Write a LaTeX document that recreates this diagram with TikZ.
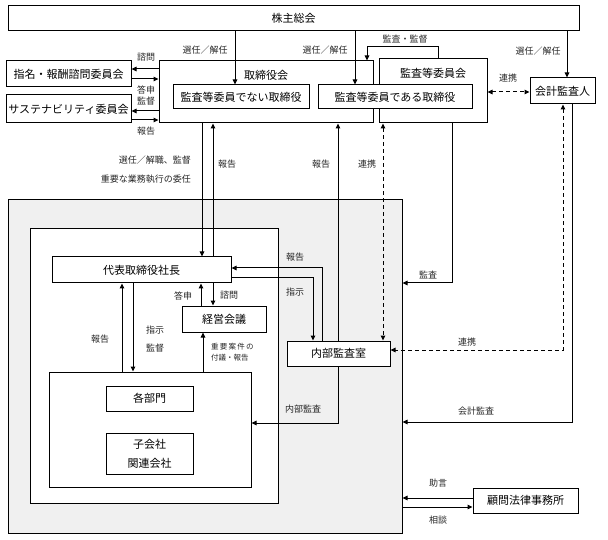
\documentclass[tikz,border=0pt]{standalone}
\usepackage{fontspec}
\setmainfont{Noto Sans CJK JP}
\usetikzlibrary{arrows.meta}
\begin{document}
\begin{tikzpicture}[x=1pt, y=-1pt,
    orgbox/.style={draw, line width=\orgBoxLineWidth, fill=white, inner sep=0pt, align=center,
      font=\fontsize{11}{13}\selectfont},
    flowlabel/.style={inner sep=1pt, text=\orgLabelColor, font=\fontsize{9}{10}\selectfont},
    flow/.style={line width=\orgFlowLineWidth, -{Triangle[length=5pt,width=4.5pt]}},
    linkflow/.style={line width=\orgFlowLineWidth, dash pattern=on 4pt off 3pt,
      {Triangle[length=5pt,width=4.5pt]}-{Triangle[length=5pt,width=4.5pt]}}]
% governance chart, pixel grid 608 x 540
\providecommand{\orgBoxLineWidth}{1pt}
\providecommand{\orgFlowLineWidth}{1pt}
\providecommand{\orgGroupFill}{black!6}
\providecommand{\orgLabelColor}{black!85}
\useasboundingbox (0,0) rectangle (608,540);
% Company block (grey) and executive block (white)
\node[orgbox, fill=\orgGroupFill, minimum width=394pt, minimum height=333pt] (group) at (205,366.5) {};
\node[orgbox, minimum width=248pt, minimum height=274pt] (exec) at (154,366) {};
% Top level
\node[orgbox, minimum width=571pt, minimum height=25pt] (soukai) at (293.5,18.5) {株主総会};
\node[orgbox, minimum width=125pt, minimum height=26pt] (shimei) at (68.5,74) {指名・報酬諮問委員会};
\node[orgbox, minimum width=125pt, minimum height=28pt] (sustain) at (68.5,109) {サステナビリティ委員会};
\node[orgbox, minimum width=214pt, minimum height=62pt] (torikai) at (266,92) {};
\node[inner sep=0pt, font=\fontsize{11}{13}\selectfont] (torikaiTitle) at (266,75) {取締役会};
\node[orgbox, minimum width=108pt, minimum height=64pt] (kansa) at (433,91) {};
\node[inner sep=0pt, font=\fontsize{11}{13}\selectfont] (kansaTitle) at (433,73) {監査等委員会};
\node[orgbox, minimum width=136pt, minimum height=24pt] (nonaudit) at (241,97) {監査等委員でない取締役};
\node[orgbox, minimum width=154pt, minimum height=24pt] (audit) at (395,97) {監査等委員である取締役};
\node[orgbox, minimum width=65pt, minimum height=26pt] (kaikei) at (562.5,91) {会計監査人};
% Execution side
\node[orgbox, minimum width=179pt, minimum height=26pt] (shacho) at (141.5,270) {代表取締役社長};
\node[orgbox, minimum width=84pt, minimum height=26pt] (keiei) at (224,319) {経営会議};
\node[orgbox, minimum width=103pt, minimum height=25pt] (naibu) at (338.5,353.5) {内部監査室};
\node[orgbox, minimum width=202pt, minimum height=115pt] (bumon) at (150,429.5) {};
\node[orgbox, minimum width=87pt, minimum height=25pt] (kakubumon) at (149.5,398.5) {各部門};
\node[orgbox, minimum width=87pt, minimum height=41pt, font=\fontsize{11}{19}\selectfont] (kogaisha) at (149.5,453.5) {子会社\\関連会社};
\node[orgbox, minimum width=105pt, minimum height=25pt] (houmu) at (525.5,500.5) {顧問法律事務所};
% Shareholders
\draw[flow] (235,0 |- soukai.south) -- (235,0 |- nonaudit.north);
\draw[flow] (355,0 |- soukai.south) -- (355,0 |- audit.north);
\draw[flow] (567,0 |- soukai.south) -- (567,0 |- kaikei.north);
\node[flowlabel] (selA) at (205,50) {選任／解任};
\node[flowlabel] (selB) at (325,50) {選任／解任};
\node[flowlabel] (selC) at (538,51) {選任／解任};
% Audit committee
\draw[flow] (438,0 |- kansa.north) -- (438,47) -- (367,47) -- (367,0 |- torikai.north);
\node[flowlabel] (superv) at (405,39) {監査・監督};
\draw[linkflow] (kansa.east |- 0,92) -- (kaikei.west |- 0,92);
\node[flowlabel] (linkA) at (508,78) {連携};
% Committees
\draw[flow] (torikai.west |- 0,69) -- (shimei.east |- 0,69);
\draw[flow] (shimei.east |- 0,79) -- (torikai.west |- 0,79);
\draw[flow] (torikai.west |- 0,111) -- (sustain.east |- 0,111);
\draw[flow] (sustain.east |- 0,120) -- (torikai.west |- 0,120);
\node[flowlabel] (consult) at (146,57) {諮問};
\node[flowlabel] (answer) at (146,90) {答申};
\node[flowlabel] (overseeA) at (146,101) {監督};
\node[flowlabel] (reportA) at (146,131) {報告};
% Board and president
\draw[flow] (202,0 |- torikai.south) -- (202,0 |- shacho.north);
\draw[flow] (213,0 |- shacho.north) -- (213,0 |- torikai.south);
\node[flowlabel, anchor=east] (appoint) at (192,160) {選任／解職、監督};
\node[flowlabel, anchor=east] (delegate) at (192,179) {重要な業務執行の委任};
\node[flowlabel] (reportB) at (227,164) {報告};
% President and management meeting
\draw[flow] (201,0 |- keiei.north) -- (201,0 |- shacho.south);
\draw[flow] (213,0 |- shacho.south) -- (213,0 |- keiei.north);
\node[flowlabel] (answerB) at (183,296) {答申};
\node[flowlabel] (consultB) at (229,295) {諮問};
% Internal audit office
\draw[flow] (322,0 |- naibu.north) -- (322,268) -- (shacho.east |- 0,268);
\draw[flow] (shacho.east |- 0,278) -- (313,278) -- (313,0 |- naibu.north);
\node[flowlabel] (reportC) at (295,257) {報告};
\node[flowlabel] (orderA) at (295,292) {指示};
\draw[flow] (338,0 |- naibu.north) -- (338,0 |- torikai.south);
\node[flowlabel] (reportD) at (321,164) {報告};
\draw[linkflow] (383,0 |- kansa.south) -- (383,0 |- naibu.north);
\node[flowlabel] (linkB) at (367,164) {連携};
\draw[flow] (452,0 |- kansa.south) -- (452,283) -- (group.east |- 0,283);
\node[flowlabel] (auditA) at (428,275) {監査};
\draw[linkflow] (563,0 |- kaikei.south) -- (563,350) -- (naibu.east |- 0,350);
\node[flowlabel] (linkC) at (467,342) {連携};
\draw[flow] (572,0 |- kaikei.south) -- (572,422) -- (group.east |- 0,422);
\node[flowlabel] (auditB) at (476,411) {会計監査};
\draw[flow] (338,0 |- naibu.south) -- (338,423) -- (bumon.east |- 0,423);
\node[flowlabel] (auditC) at (303,409) {内部監査};
% Departments
\draw[flow] (122,0 |- bumon.north) -- (122,0 |- shacho.south);
\draw[flow] (133,0 |- shacho.south) -- (133,0 |- bumon.north);
\node[flowlabel] (reportE) at (100,339) {報告};
\node[flowlabel] (orderB) at (155,330) {指示};
\node[flowlabel] (overseeB) at (155,348) {監督};
\draw[flow] (203,0 |- bumon.north) -- (203,0 |- keiei.south);
\node[flowlabel, anchor=west, align=left, font=\fontsize{7.5}{11}\selectfont] (agenda) at (210,352.5) {重\,要\,案\,件\,の\\付議・報告};
% Legal counsel
\draw[flow] (houmu.west |- 0,498) -- (group.east |- 0,498);
\draw[flow] (group.east |- 0,507) -- (houmu.west |- 0,507);
\node[flowlabel] (advice) at (438,483) {助言};
\node[flowlabel] (counsel) at (438,520) {相談};
\end{tikzpicture}
\end{document}
